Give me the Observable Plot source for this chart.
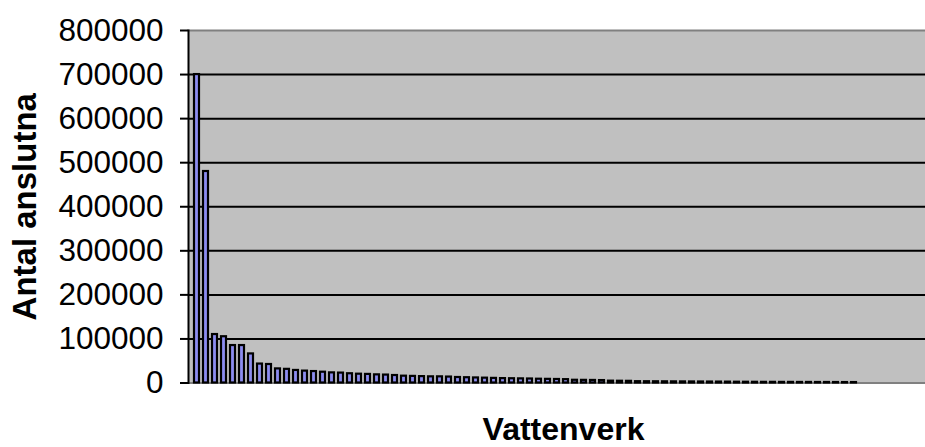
<!DOCTYPE html>
<html>
<head>
<meta charset="utf-8">
<script src="https://cdn.jsdelivr.net/npm/d3@7"></script>
<script src="https://cdn.jsdelivr.net/npm/@observablehq/plot@0.6"></script>
<style>
  html, body { margin: 0; padding: 0; background: #fff; overflow: hidden; }
  #chart { width: 925px; height: 447px; }
</style>
</head>
<body>
<div id="chart"></div>
<script>
// Number of water works (categories on the x axis, unlabeled)
const categories = Array.from({length: 82}, (_, i) => String(i + 1));

// Antal anslutna per vattenverk
const values = [
  700000, 480000, 110000, 105000, 85000, 85000, 66000, 43000, 42000, 32000,
  31000, 28500, 27000, 26000, 24500, 23000, 22500, 21000, 20000, 19500,
  18500, 18000, 17000, 15500, 15000, 14500, 14000, 14000, 13500, 12500,
  12000, 11500, 11000, 10500, 10000, 9700, 9400, 9100, 8600, 8300,
  8000, 7600, 6200, 6000, 5800, 5500, 4200, 4000, 3800, 3000,
  2900, 2800, 2700, 2600, 2500, 2400, 2300, 2200, 2100, 2000,
  1800, 1700, 1600, 1500, 1500, 1400, 1400, 1300, 1300, 1200,
  1200, 1100, 1000, 1000
];

const yTicks = [0, 100000, 200000, 300000, 400000, 500000, 600000, 700000, 800000];
const gridValues = [100000, 200000, 300000, 400000, 500000, 600000, 700000];

const yLabel = "Antal anslutna";
const xLabel = "Vattenverk";

const data = values.map((v, i) => ({cat: categories[i], v}));

const font = "'Liberation Sans', Arial, Helvetica, sans-serif";

const chart = Plot.plot({
  width: 925,
  height: 447,
  marginLeft: 188,
  marginRight: 0,
  marginTop: 30,
  marginBottom: 64.5,
  style: {fontFamily: font, color: "#000", background: "#fff", overflow: "visible"},
  x: {domain: categories, range: [188, 934], paddingInner: 0.45, paddingOuter: 0.25, axis: null},
  y: {domain: [0, 800000]},
  marks: [
    Plot.frame({fill: "#c0c0c0", stroke: null}),
    Plot.ruleY(gridValues, {stroke: "#000", strokeWidth: 2}),
    Plot.ruleY([800000], {stroke: "#808080", strokeWidth: 2}),
    Plot.ruleY([0], {stroke: "#808080", strokeWidth: 2}),
    Plot.barY(data, {x: "cat", y: "v", fill: "#8c8cf0", stroke: "#000", strokeWidth: 2.2}),
    Plot.frame({anchor: "left", stroke: "#000", strokeWidth: 2}),
    Plot.axisY({
      ticks: yTicks,
      tickSize: 8,
      tickPadding: 17,
      tickFormat: d3.format("d"),
      fontSize: 31.5,
      stroke: "#000",
      strokeWidth: 2,
      label: null
    }),
    Plot.text([yLabel], {
      frameAnchor: "left", dx: -163, rotate: -90, textAnchor: "middle",
      fontSize: 33, fontWeight: "bold", fill: "#000"
    }),
    Plot.text([xLabel], {
      frameAnchor: "bottom", dx: 6.5, dy: 57, lineAnchor: "bottom", textAnchor: "middle",
      fontSize: 32, fontWeight: "bold", fill: "#000"
    })
  ]
});

document.getElementById("chart").appendChild(chart);
</script>
</body>
</html>
